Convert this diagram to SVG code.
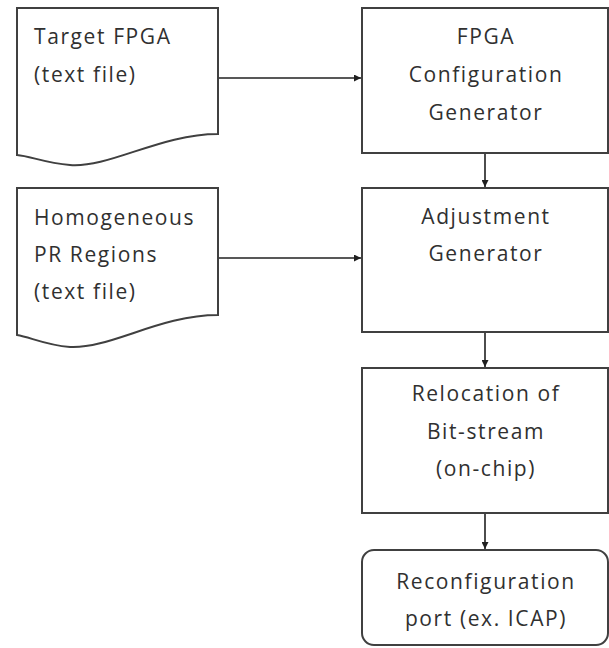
<svg xmlns="http://www.w3.org/2000/svg" width="609" height="648" viewBox="0 0 609 648">
  <style>
    .shape { fill: #ffffff; stroke: #404040; stroke-width: 2; }
    .lbl { font-family: "Open Sans", "Liberation Sans", sans-serif; font-size: 21px; letter-spacing: 1.6px; fill: #303030; }
    .mid { text-anchor: middle; }
    .edge { fill: none; stroke: #202020; stroke-width: 1.6; }
  </style>
  <defs>
    <marker id="arrow" viewBox="0 0 10 10" refX="10" refY="5" markerWidth="7" markerHeight="7" markerUnits="userSpaceOnUse" orient="auto">
      <path d="M0,0 L10,5 L0,10 z" fill="#202020"/>
    </marker>
  </defs>
  <rect width="609" height="648" fill="#ffffff"/>

  <g id="edges">
    <path class="edge" d="M218,78 H361" marker-end="url(#arrow)"/>
    <path class="edge" d="M218,258 H361" marker-end="url(#arrow)"/>
    <path class="edge" d="M485,153 V187" marker-end="url(#arrow)"/>
    <path class="edge" d="M485,332 V367" marker-end="url(#arrow)"/>
    <path class="edge" d="M485,513 V549" marker-end="url(#arrow)"/>
  </g>

  <g id="target-fpga">
    <path class="shape" d="M17,8 H218 V134 C160,134 110,168 70,165 C45,163 30,156 17,155 Z"/>
    <text class="lbl" x="34" y="44">Target FPGA</text>
    <text class="lbl" x="34" y="82">(text file)</text>
  </g>

  <g id="pr-regions">
    <path class="shape" d="M17,188 H218 V315 C160,315 110,349 70,347 C45,345 30,337 17,335 Z"/>
    <text class="lbl" x="34" y="225">Homogeneous</text>
    <text class="lbl" x="34" y="262">PR Regions</text>
    <text class="lbl" x="34" y="299">(text file)</text>
  </g>

  <g id="config-gen">
    <rect class="shape" x="362" y="8" width="246" height="145"/>
    <text class="lbl mid" x="486" y="44">FPGA</text>
    <text class="lbl mid" x="486" y="82">Configuration</text>
    <text class="lbl mid" x="486" y="120">Generator</text>
  </g>

  <g id="adjust-gen">
    <rect class="shape" x="362" y="188" width="246" height="144"/>
    <text class="lbl mid" x="486" y="224">Adjustment</text>
    <text class="lbl mid" x="486" y="261">Generator</text>
  </g>

  <g id="relocation">
    <rect class="shape" x="362" y="368" width="246" height="145"/>
    <text class="lbl mid" x="486" y="401">Relocation of</text>
    <text class="lbl mid" x="486" y="439">Bit-stream</text>
    <text class="lbl mid" x="486" y="476">(on-chip)</text>
  </g>

  <g id="icap">
    <rect class="shape" x="362" y="550" width="246" height="95" rx="12" ry="12"/>
    <text class="lbl mid" x="486" y="589">Reconfiguration</text>
    <text class="lbl mid" x="486" y="626">port (ex. ICAP)</text>
  </g>
</svg>
